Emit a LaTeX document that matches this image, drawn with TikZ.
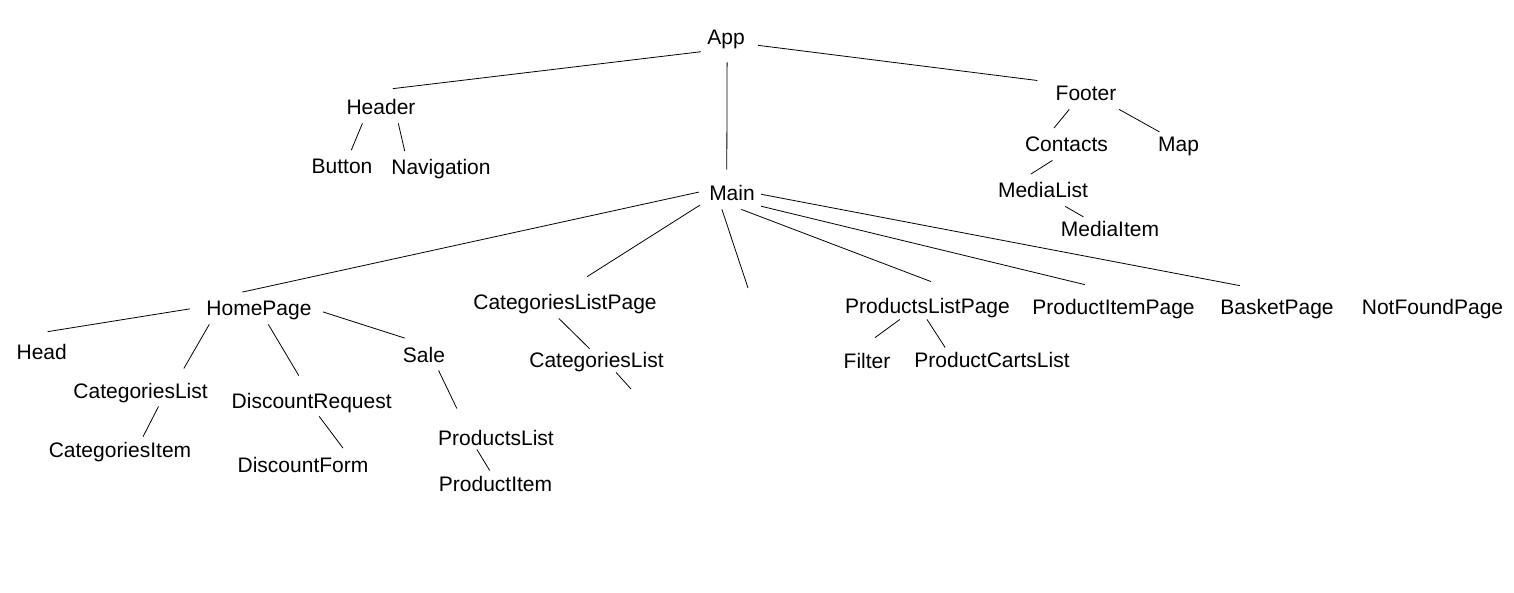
\documentclass[tikz,border=0pt]{standalone}
\usepackage{fontspec}
\setmainfont{Liberation Sans}
\tikzset{lb/.style = {font=\fontsize{21pt}{25pt}\selectfont, inner xsep=6pt, inner ysep=3.5pt,
                      text height=20pt, text depth=4.5pt, anchor=base}}

\begin{document}
\begin{tikzpicture}[x=1pt, y=-1pt, line width=0.8pt]
    \useasboundingbox (0,0) rectangle (1514,593);
    \node[lb] (app) at (726,45) {App};
    \node[lb] (hdr) at (381,115) {Header}; \node[lb] (btn) at (342,174) {Button}; \node[lb] (nav) at (441,175) {Navigation};
    \node[lb] (ftr) at (1086,101) {Footer}; \node[lb] (cnt) at (1066.5,152) {Contacts}; \node[lb] (map) at (1178.5,152) {Map};
    \node[lb] (mdl) at (1043,198) {MediaList}; \node[lb] (mdi) at (1110,237) {MediaItem};
    \node[lb] (main) at (732,201) {Main};
    \node[lb] (home) at (259,316) {HomePage}; \node[lb] (head) at (41.7,359) {Head};
    \node[lb] (cl) at (140.6,398) {CategoriesList}; \node[lb] (ci) at (120,457) {CategoriesItem};
    \node[lb] (dr) at (311.7,408) {DiscountRequest}; \node[lb] (df) at (303,472) {DiscountForm};
    \node[lb] (sale) at (424,362) {Sale}; \node[lb] (pl) at (496,445) {ProductsList}; \node[lb] (pi) at (495.5,491) {ProductItem};
    \node[lb] (clp) at (565,310) {CategoriesListPage}; \node[lb] (cl2) at (596.5,367) {CategoriesList};
    \node[lb] (plp) at (927.5,314) {ProductsListPage}; \node[lb] (pip) at (1113.5,314.5) {ProductItemPage};
    \node[lb] (bp) at (1277,315) {BasketPage}; \node[lb] (nfp) at (1432.5,315) {NotFoundPage};
    \node[lb] (flt) at (867,368) {Filter}; \node[lb] (pcl) at (992,367) {ProductCartsList};
    \coordinate (mfree) at (748,288);
    \coordinate (clfree) at (631,389);
    \draw[shorten >=20.5pt] (app.210) -- (hdr.118);
    \draw[shorten <=9pt, shorten >=7.5pt] (app.274) -- (main.108);
    \draw[shorten <=7pt, shorten >=12pt] (app.344) -- (ftr.163);
    \draw (hdr.221) -- (btn.60);
    \draw (hdr.317) -- (nav.156);
    \draw (ftr.224) -- (cnt.128);
    \draw[shorten >=-7.8pt] (ftr.334) -- (map.148);
    \draw (cnt.229) -- (mdl.127);
    \draw[shorten >=-7.5pt] (mdl.324) -- (mdi.154);
    \draw[shorten <=4pt] (main.176) -- (home.136);
    \draw[shorten <=3.5pt, shorten >=17.7pt] (main.199) -- (clp.66);
    \draw (main.238) -- (mfree);
    \draw[shorten >=23.9pt] (main.300) -- (plp.32);
    \draw[shorten >=25.3pt] (main.336) -- (pip.104);
    \draw[shorten >=29pt] (main.358) -- (bp.118);
    \draw[shorten <=10.4pt, shorten >=21.9pt] (home.179) -- (head.134);
    \draw[shorten >=6.5pt] (home.198) -- (cl.22);
    \draw[shorten >=9.9pt] (home.300) -- (dr.116);
    \draw[shorten <=5.5pt] (home.358) -- (sale.140);
    \draw[shorten >=-4pt] (cl.318) -- (ci.33);
    \draw (dr.295) -- (df.22);
    \draw[shorten >=13.9pt] (sale.312) -- (pl.154);
    \draw[shorten <=-4.6pt, shorten >=-4pt] (pl.224) -- (pi.116);
    \draw[shorten >=-8pt] (clp.249) -- (cl2.128);
    \draw[shorten <=-4pt] (cl2.324) -- (clfree);
    \draw[shorten <=-5pt, shorten >=11pt] (plp.207) -- (flt.93);
    \draw[shorten <=-3.5pt, shorten >=-5.3pt] (plp.275) -- (pcl.162);
\end{tikzpicture}
\end{document}
